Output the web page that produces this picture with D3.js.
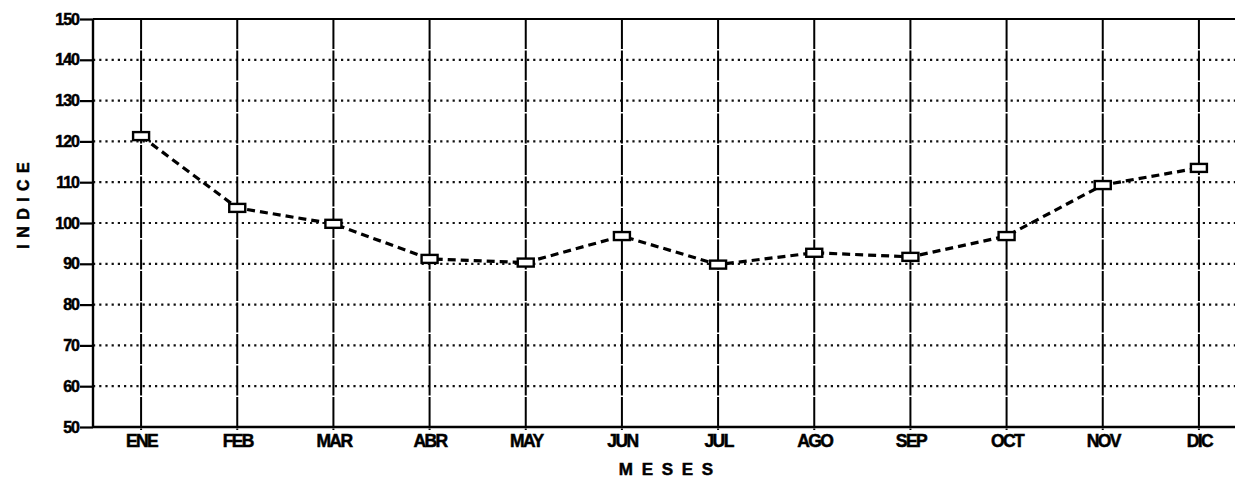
<!DOCTYPE html>
<html>
<head>
<meta charset="utf-8">
<script src="https://cdn.jsdelivr.net/npm/d3@7"></script>
<style>
  body { margin: 0; background: #fff; }
  text { font-family: "Liberation Sans", Arial, sans-serif; font-weight: bold; fill: #000; }
</style>
</head>
<body>
<div id="chart"></div>
<script>
// data
var months = ["ENE", "FEB", "MAR", "ABR", "MAY", "JUN", "JUL", "AGO", "SEP", "OCT", "NOV", "DIC"];
var indice = [121.3, 103.7, 99.8, 91.2, 90.3, 96.8, 89.8, 92.7, 91.7, 96.8, 109.3, 113.5];
var yTicks = [50, 60, 70, 80, 90, 100, 110, 120, 130, 140, 150];
var xText = "M E S E S";
var yText = "I N D I C E";

var svgWidth = 1235, svgHeight = 479;
var margin = { top: 19, right: -12, bottom: 52, left: 93 };
var width = svgWidth - margin.left - margin.right;
var height = svgHeight - margin.top - margin.bottom;

var svg = d3.select("#chart").append("svg")
  .attr("width", svgWidth)
  .attr("height", svgHeight);

var chartGroup = svg.append("g")
  .attr("transform", `translate(${margin.left}, ${margin.top})`);

// scales
var xScale = d3.scalePoint()
  .domain(months)
  .range([0, width])
  .padding(0.5);

var yScale = d3.scaleLinear()
  .domain([50, 150])
  .range([height, 0]);

// horizontal dotted grid
chartGroup.selectAll(".hgrid")
  .data(yTicks.slice(1, -1))
  .enter()
  .append("line")
  .attr("class", "hgrid")
  .attr("x1", 0)
  .attr("x2", width)
  .attr("y1", d => yScale(d))
  .attr("y2", d => yScale(d))
  .attr("stroke", "#111")
  .attr("stroke-width", 2.2)
  .attr("stroke-dasharray", "2.2,4");

// vertical grid at each month
chartGroup.selectAll(".vgrid")
  .data(months)
  .enter()
  .append("line")
  .attr("class", "vgrid")
  .attr("x1", d => xScale(d))
  .attr("x2", d => xScale(d))
  .attr("y1", 0)
  .attr("y2", height + 3)
  .attr("stroke", "#000")
  .attr("stroke-width", 2)
  .attr("stroke-dasharray", "30,1.5");

// top frame line
chartGroup.append("line")
  .attr("x1", 0).attr("x2", width)
  .attr("y1", 0).attr("y2", 0)
  .attr("stroke", "#000")
  .attr("stroke-width", 2.2);

// axes
var leftAxis = d3.axisLeft(yScale)
  .tickValues(yTicks)
  .tickSize(13)
  .tickPadding(1)
  .tickFormat(d3.format("d"));

var bottomAxis = d3.axisBottom(xScale)
  .tickSize(0)
  .tickPadding(8);

var yAxisG = chartGroup.append("g").call(leftAxis);
yAxisG.select(".domain").attr("stroke-width", 2.4).attr("d", `M0,0V${height}`);
yAxisG.selectAll(".tick line").attr("stroke-width", 2.2);
yAxisG.selectAll(".tick text")
  .style("font-size", "16px")
  .attr("letter-spacing", "-1px")
  .attr("stroke", "#000")
  .attr("stroke-width", 0.5);

var xAxisG = chartGroup.append("g")
  .attr("transform", `translate(0, ${height})`)
  .call(bottomAxis);
xAxisG.select(".domain").attr("stroke-width", 2.4).attr("d", `M0,0H${width}`);
xAxisG.selectAll(".tick text")
  .style("font-size", "17.5px")
  .attr("letter-spacing", "-1.6px")
  .attr("stroke", "#000")
  .attr("stroke-width", 0.5);

// dashed line
var line = d3.line()
  .x((d, i) => xScale(months[i]))
  .y(d => yScale(d));

chartGroup.append("path")
  .datum(indice)
  .attr("d", line)
  .attr("fill", "none")
  .attr("stroke", "#000")
  .attr("stroke-width", 3.2)
  .attr("stroke-dasharray", "8,5");

// square markers
chartGroup.selectAll(".mark")
  .data(indice)
  .enter()
  .append("rect")
  .attr("class", "mark")
  .attr("x", (d, i) => xScale(months[i]) - 8)
  .attr("y", d => yScale(d) - 4)
  .attr("width", 16)
  .attr("height", 8)
  .attr("fill", "#fff")
  .attr("stroke", "#000")
  .attr("stroke-width", 2.4);

// axis labels
chartGroup.append("text")
  .attr("transform", `translate(${667 - margin.left}, ${height + 48})`)
  .attr("text-anchor", "middle")
  .style("font-size", "17px")
  .attr("letter-spacing", "2px")
  .attr("stroke", "#000")
  .attr("stroke-width", 0.5)
  .text(xText);

chartGroup.append("text")
  .attr("transform", `translate(${29 - margin.left}, ${205 - margin.top}) rotate(-90)`)
  .attr("text-anchor", "middle")
  .style("font-size", "16px")
  .attr("letter-spacing", "1px")
  .attr("stroke", "#000")
  .attr("stroke-width", 0.5)
  .text(yText);
</script>
</body>
</html>
